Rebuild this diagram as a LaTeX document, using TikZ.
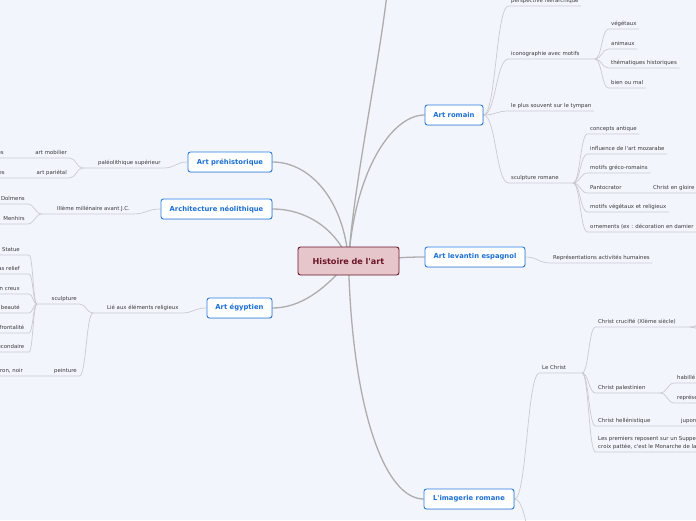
\documentclass[tikz,border=0pt]{standalone}
\usepackage{fontspec}
\setmainfont{DejaVu Sans}
\usetikzlibrary{calc, backgrounds, shadows}
\definecolor{mBg}{HTML}{F2F5FC}
\definecolor{mBlue}{HTML}{2A7DE1}
\definecolor{mBlueText}{HTML}{1C6FD4}
\definecolor{mRootFill}{HTML}{E6C6CB}
\definecolor{mRootLine}{HTML}{6B1528}
\definecolor{mBranch}{HTML}{ADADAD}
\definecolor{mLeaf}{HTML}{CACBD0}
\definecolor{mText}{HTML}{3A3A3A}

\begin{document}
\begin{tikzpicture}[
    x=1pt, y=-1pt,
    root/.style={draw=mRootLine, fill=mRootFill, line width=0.9pt, rounded corners=2.5pt, font=\bfseries\fontsize{8.1}{10}\selectfont, text=mRootLine, minimum width=101pt, minimum height=28pt, inner sep=0pt},
    topic/.style={draw=mBlue, fill=white, line width=0.9pt, rounded corners=2.5pt, font=\bfseries\fontsize{6.8}{8}\selectfont, text=mBlueText, minimum height=20pt, inner sep=0pt, drop shadow={shadow xshift=0.5pt, shadow yshift=-0.7pt, opacity=0.25, fill=black!60}},
    lbl/.style={font=\fontsize{5.4}{7}\selectfont, text=mText, inner xsep=2.5pt, inner ysep=0pt, text height=4.2pt, text depth=3.3pt},
    lblR/.style={lbl, anchor=south west},
    lblL/.style={lbl, anchor=south east},
    branch/.style={draw=mBranch, line width=1.3pt},
    leaf/.style={draw=mLeaf, line width=0.7pt},
    hv/.style={to path={let \p1=(\tikztostart), \p2=(\tikztotarget) in .. controls ({(\x1+\x2)/2},\y1) and ({(\x1+\x2)/2},\y2) .. (\tikztotarget)}}
]
    \useasboundingbox (0,0) rectangle (696,520);

    % racine et thèmes
    \node[root] (hist) at (348.5,261) {Histoire de l\textquotesingle art};
    \node[topic, minimum width=84pt] (pre) at (230,162) {Art préhistorique};
    \node[topic, minimum width=111pt] (neo) at (216.5,209) {Architecture néolithique};
    \node[topic, minimum width=65pt] (egy) at (239.5,308) {Art égyptien};
    \node[topic, minimum width=58pt] (rom) at (454,115) {Art romain};
    \node[topic, minimum width=100pt] (lev) at (475,257) {Art levantin espagnol};
    \node[topic, minimum width=90pt] (ima) at (469,499) {L\textquotesingle imagerie romane};

    % côté gauche
    \node[lblR] (pal) at (95.5,168) {paléolithique supérieur};
    \node[lblL] (mob) at (69.5,158) {art mobilier};
    \node[lblL] (par) at (69.5,178) {art pariétal};
    \node[lblL] (mobK) at (6.5,158) {statuettes};
    \node[lblL] (parK) at (7.5,178) {peintures rupestres};
    \node[lblR] (mil) at (54.5,214) {IIIème millénaire avant J.C.};
    \node[lblL] (dol) at (27.5,204) {Dolmens};
    \node[lblL] (men) at (27.5,224) {Menhirs};
    \node[lblR] (lie) at (104.5,313) {Lié aux éléments religieux};
    \node[lblL] (scu) at (79.5,304) {sculpture};
    \node[lblL] (pei) at (79.5,376) {peinture};
    \node[lblL] (peiK) at (25.5,376) {ocre, marron, noir};
    \node[lblL] (sta) at (22.5,255) {Statue};
    \node[lblL] (bas) at (22.5,274) {bas relief};
    \node[lblL] (cre) at (22.5,294) {relief en creux};
    \node[lblL] (bea) at (22.5,313) {idéal de beauté};
    \node[lblL] (fro) at (27,333) {loi de frontalité};
    \node[lblL] (sec) at (27,352) {hiérarchie secondaire};

    % côté droit
    \node[lblR] (per) at (508.5,6) {perspective hiérarchique};
    \node[lblR] (ico) at (508.5,59) {iconographie avec motifs};
    \node[lblR] (veg) at (608.5,29) {végétaux};
    \node[lblR] (ani) at (608.5,49) {animaux};
    \node[lblR] (the) at (608.5,68) {thématiques historiques};
    \node[lblR] (bie) at (608.5,88) {bien ou mal};
    \node[lblR] (tym) at (508.5,111) {le plus souvent sur le tympan};
    \node[lblR] (scr) at (508.5,183) {sculpture romane};
    \node[lblR] (con) at (587.5,134) {concepts antique};
    \node[lblR] (moz) at (587.5,154) {influence de l\textquotesingle art mozarabe};
    \node[lblR] (gre) at (587.5,173) {motifs gréco-romains};
    \node[lblR] (pan) at (587.5,193) {Pantocrator};
    \node[lblR] (glo) at (650.5,193) {Christ en gloire};
    \node[lblR] (mvr) at (587.5,212) {motifs végétaux et religieux};
    \node[lblR] (orn) at (587.5,232) {ornements (ex : décoration en damier};
    \node[lblR] (rep) at (550.5,263) {Représentations activités humaines};
    \node[lblR] (chr) at (539.5,373) {Le Christ};
    \node[lblR] (cru) at (595.5,327) {Christ crucifié (XIème siècle)};
    \node[lblR] (cpa) at (595.5,393) {Christ palestinien};
    \node[lblR] (hab) at (674.5,383) {habillé d\textquotesingle une tunique};
    \node[lblR] (rps) at (674.5,403) {représenté jeune};
    \node[lblR] (hel) at (595.5,426) {Christ hellénistique};
    \node[lblR] (jup) at (678.5,426) {jupon court};
    \node[lblR] (mon) at (595.5,452) {croix pattée, c\textquotesingle est le Monarche de la croix};
    \node[lblR, text height=3.9pt] (sup) at (mon.north west) {Les premiers reposent sur un Suppedaneum,};

    % points de jonction
    \coordinate (jPal) at (83,168);
    \coordinate (jMil) at (42,214);
    \coordinate (jLie) at (93,313);
    \coordinate (jScu) at (37,304);
    \coordinate (kScu) at (29,304);
    \coordinate (edgeL) at (-6,0);
    \coordinate (jIco) at (595,59);
    \coordinate (jScr) at (573,183);
    \coordinate (jChr) at (582,373);
    \coordinate (jCru) at (690,327);
    \coordinate (jCpa) at (660,393);
    \coordinate (topOut) at (387,-6);
    \coordinate (imaOut) at (545,585);
    \coordinate (cruA) at (725,298);
    \coordinate (cruB) at (725,322);
    \coordinate (cruC) at (725,354);
    \foreach \k in {sta, bas, cre, bea, fro, sec}
        \coordinate (\k K) at (kScu |- \k.south);

    \begin{scope}[on background layer]
        \fill[mBg] (0,0) rectangle (696,520);
        \clip (0,0) rectangle (696,520);

        % branches principales
        \draw[branch] (hist.center) .. controls (353,190) and (378,70) .. (topOut);
        \draw[branch] (hist.center) .. controls (355,170) and (392,115) .. (rom.west);
        \draw[branch] (hist.center) to[hv] (lev.west);
        \draw[branch] (hist.center) .. controls (352,410) and (385,499) .. (ima.west);
        \draw[branch] (hist.center) .. controls (344,200) and (310,162) .. (pre.east);
        \draw[branch] (hist.center) .. controls (336,228) and (305,209) .. (neo.east);
        \draw[branch] (hist.center) .. controls (325,290) and (300,308) .. (egy.east);

        % gauche
        \draw[leaf] (pre.west) to[hv] (pal.south east) -- (jPal);
        \draw[leaf] (jPal) to[hv] (mob.south east) -- (mobK.south west);
        \draw[leaf] (jPal) to[hv] (par.south east) -- (parK.south west);
        \draw[leaf] (neo.west) to[hv] (mil.south east) -- (jMil);
        \draw[leaf] (jMil) to[hv] (dol.south east) -- (dol.south west -| edgeL);
        \draw[leaf] (jMil) to[hv] (men.south east) -- (men.south west -| edgeL);
        \draw[leaf] (egy.west) to[hv] (lie.south east) -- (jLie);
        \draw[leaf] (jLie) to[hv] (scu.south east) -- (jScu);
        \draw[leaf] (jLie) to[hv] (pei.south east) -- (peiK.south west);
        \foreach \k in {sta, bas, cre, bea, fro, sec}
            \draw[leaf] (jScu) to[hv] (\k K) -- (\k.south west -| edgeL);

        % droite
        \foreach \k in {per, tym}
            \draw[leaf] (rom.east) to[hv] (\k.south west) -- (\k.south east);
        \draw[leaf] (rom.east) to[hv] (ico.south west) -- (jIco);
        \draw[leaf] (rom.east) to[hv] (scr.south west) -- (jScr);
        \foreach \k in {veg, ani, the, bie}
            \draw[leaf] (jIco) to[hv] (\k.south west) -- (\k.south east);
        \foreach \k in {con, moz, gre, mvr, orn}
            \draw[leaf] (jScr) to[hv] (\k.south west) -- (\k.south east);
        \draw[leaf] (jScr) to[hv] (pan.south west) -- (glo.south east);
        \draw[leaf] (lev.east) to[hv] (rep.south west) -- (rep.south east);
        \draw[leaf] (ima.east) to[hv] (chr.south west) -- (jChr);
        \draw[leaf] (ima.east) to[hv] (imaOut);
        \draw[leaf] (jChr) to[hv] (cru.south west) -- (jCru);
        \foreach \k in {cruA, cruB, cruC}
            \draw[leaf] (jCru) to[hv] (\k);
        \draw[leaf] (jChr) to[hv] (cpa.south west) -- (jCpa);
        \foreach \k in {hab, rps}
            \draw[leaf] (jCpa) to[hv] (\k.south west) -- (\k.south east);
        \draw[leaf] (jChr) to[hv] (hel.south west) -- (jup.south east);
        \draw[leaf] (jChr) to[hv] (mon.south west) -- (mon.south east);
    \end{scope}
\end{tikzpicture}
\end{document}
